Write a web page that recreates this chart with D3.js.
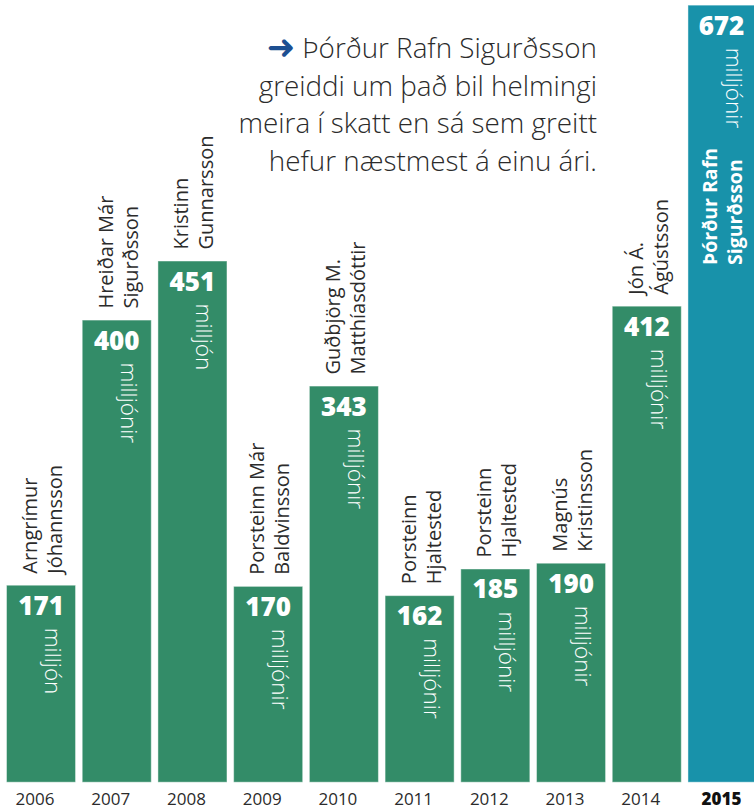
<!DOCTYPE html>
<html>
<head>
<meta charset="utf-8">
<script src="https://cdn.jsdelivr.net/npm/d3@7"></script>
<style>
  html, body { margin: 0; padding: 0; background: #fff; }
  svg { display: block; font-family: "Open Sans", sans-serif; }
</style>
</head>
<body>
<svg id="chart" width="754" height="809"></svg>
<script>
// hæstu skattgreiðendur hvers árs
const years = [2006, 2007, 2008, 2009, 2010, 2011, 2012, 2013, 2014, 2015];
const amounts = [171, 400, 451, 170, 343, 162, 185, 190, 412, 672];
const units = ["milljón", "milljónir", "milljón", "milljónir", "milljónir",
  "milljónir", "milljónir", "milljónir", "milljónir", "milljónir"];
const payers = [
  ["Arngrímur", "Jóhannsson"],
  ["Hreiðar Már", "Sigurðsson"],
  ["Kristinn", "Gunnarsson"],
  ["Porsteinn Már", "Baldvinsson"],
  ["Guðbjörg M.", "Matthíasdóttir"],
  ["Porsteinn", "Hjaltested"],
  ["Porsteinn", "Hjaltested"],
  ["Magnús", "Kristinsson"],
  ["Jón Á.", "Ágústsson"],
  ["Þórður Rafn", "Sigurðsson"]
];
const noteLines = [
  "Þórður Rafn Sigurðsson",
  "greiddi um það bil helmingi",
  "meira í skatt en sá sem greitt",
  "hefur næstmest á einu ári."
];
const highlight = 2015;

const green = "#338c68", blue = "#1892aa", ink = "#2b2b2b";

const svg = d3.select("#chart");
const rows = years.map((y, i) => ({year: y, value: amounts[i], unit: units[i], name: payers[i]}));

const x = d3.scaleBand()
    .domain(years)
    .range([6, 757.5])
    .paddingInner(0.075)
    .paddingOuter(0);
const y = d3.scaleLinear().domain([0, 676]).range([782.7, 0]);
const cx = d => x(d.year) + x.bandwidth() / 2;

// bars
svg.append("g")
  .selectAll("rect")
  .data(rows)
  .join("rect")
    .attr("x", d => x(d.year) + 0.5)
    .attr("y", d => y(d.value) + 0.5)
    .attr("width", x.bandwidth() - 1)
    .attr("height", d => y(0) - y(d.value) - 1)
    .attr("fill", d => d.year === highlight ? blue : green)
    .attr("stroke", "rgba(255,255,255,0.45)")
    .attr("stroke-width", 1);

// numbers
svg.append("g")
  .selectAll("text")
  .data(rows)
  .join("text")
    .attr("x", d => d.year === highlight ? cx(d) - 1 : cx(d))
    .attr("y", d => y(d.value) + 30)
    .attr("text-anchor", "middle")
    .attr("fill", "#fff")
    .attr("font-size", 26)
    .attr("font-weight", 800)
    .text(d => d.value);

// milljón / milljónir
svg.append("g")
  .selectAll("text")
  .data(rows)
  .join("text")
    .attr("transform", d => `translate(${cx(d) + 4},${y(d.value) + 43}) rotate(90)`)
    .attr("fill", "#fff")
    .attr("font-size", 22.5)
    .attr("font-weight", 300)
    .text(d => d.unit);

// names above the bars
const nameG = svg.append("g")
  .selectAll("text")
  .data(rows.filter(d => d.year !== highlight))
  .join("text")
    .attr("transform", d => `translate(${cx(d)},${y(d.value) - 11}) rotate(-90)`)
    .attr("fill", ink)
    .attr("font-size", 20);
nameG.selectAll("tspan")
  .data(d => d.name)
  .join("tspan")
    .attr("x", 0)
    .attr("y", (d, i) => -4 + i * 25)
    .text(d => d);

// name inside the highlighted bar
const topRow = rows.find(d => d.year === highlight);
svg.append("text")
    .attr("transform", `translate(${cx(topRow)},265) rotate(-90)`)
    .attr("fill", "#fff")
    .attr("font-size", 19.5)
    .attr("font-weight", 700)
  .selectAll("tspan")
  .data(topRow.name)
  .join("tspan")
    .attr("x", 0)
    .attr("y", (d, i) => -5 + i * 25)
    .text(d => d);

// years
svg.append("g")
  .selectAll("text")
  .data(rows)
  .join("text")
    .attr("x", d => d.year === highlight ? cx(d) - 1 : cx(d) - 6)
    .attr("y", 805)
    .attr("text-anchor", "middle")
    .attr("fill", d => d.year === highlight ? "#111" : ink)
    .attr("font-size", 17)
    .attr("font-weight", d => d.year === highlight ? 800 : 400)
    .text(d => d.year);

// note
const note = svg.append("text")
    .attr("text-anchor", "end")
    .attr("fill", ink)
    .attr("font-size", 27.8)
    .attr("font-weight", 300);
noteLines.forEach((line, i) => {
  const t = note.append("tspan").attr("x", 597).attr("y", 58 + i * 37.5);
  if (i === 0) {
    t.append("tspan")
        .attr("fill", "#1d4f91")
        .attr("font-family", "DejaVu Sans")
        .attr("font-weight", 700)
        .attr("font-size", 34)
        .attr("dy", 1)
        .text("➜");
    t.append("tspan").attr("dy", -1).text(" ");
  }
  t.append("tspan").text(line);
});
</script>
</body>
</html>
